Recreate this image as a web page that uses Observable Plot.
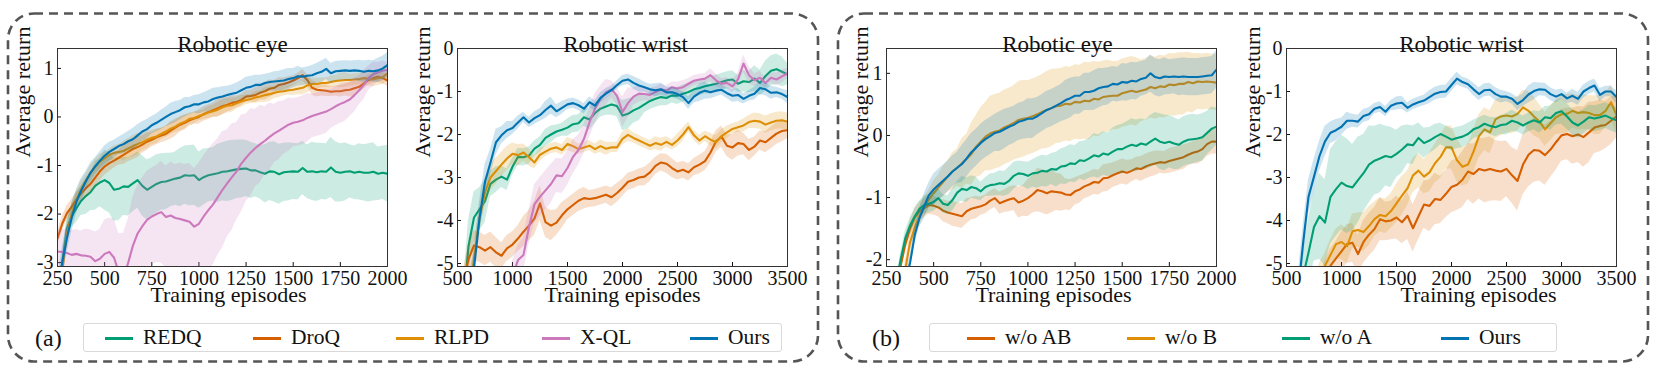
<!DOCTYPE html>
<html><head><meta charset="utf-8">
<script src="https://cdn.jsdelivr.net/npm/d3@7"></script>
<script src="https://cdn.jsdelivr.net/npm/@observablehq/plot@0.6"></script>
<style>
html,body{margin:0;padding:0;background:#fff}
#root{position:relative;width:1661px;height:374px;overflow:hidden;font-family:"Liberation Serif","Times New Roman",Times,"DejaVu Serif",serif;color:#111}
.panel{position:absolute;top:13px}
.legend{position:absolute;top:323px;height:29px;box-sizing:border-box;border:1.5px solid #d9d9d9;border-radius:3px;background:#fff}
.item{position:absolute;top:338px;font-size:21.5px;line-height:1;transform:translateY(-50%);white-space:nowrap}
.sw{position:absolute;top:337px;width:28px;height:2.5px}
.tag{position:absolute;top:338px;font-size:24px;line-height:1;transform:translateY(-50%)}
</style></head><body><div id="root"></div>
<script>
// ---------- episode grids & ticks ----------
const eyeEpisodes = d3.range(250, 2001, 25);     // 71 points
const wristEpisodes = d3.range(500, 3501, 50);   // 61 points
const eyeXTicks = [250, 500, 750, 1000, 1250, 1500, 1750, 2000];
const wristXTicks = [500, 1000, 1500, 2000, 2500, 3000, 3500];
const eyeAYTicks = [-3, -2, -1, 0, 1];
const eyeBYTicks = [-2, -1, 0, 1];
const wristYTicks = [-5, -4, -3, -2, -1, 0];
const panelTitles = ["Robotic eye", "Robotic wrist", "Robotic eye", "Robotic wrist"];
const xLabel = "Training episodes";
const yLabel = "Average return";
const legendA = ["REDQ", "DroQ", "RLPD", "X-QL", "Ours"];
const legendB = ["w/o AB", "w/o B", "w/o A", "Ours"];
const colors = {green: "#029e73", red: "#d55e00", orange: "#de8f05", pink: "#cc78bc", blue: "#0173b2"};

// ---------- (a) Robotic eye ----------
const aEyeREDQ = [-4.0,-3.0,-2.3,-2.05,-1.88,-1.73,-1.63,-1.55,-1.42,-1.35,
 -1.3,-1.36,-1.5,-1.48,-1.43,-1.44,-1.37,-1.3,-1.42,-1.5,
 -1.44,-1.38,-1.34,-1.33,-1.3,-1.27,-1.25,-1.2,-1.21,-1.2,
 -1.3,-1.24,-1.2,-1.18,-1.16,-1.13,-1.12,-1.1,-1.08,-1.07,
 -1.06,-1.1,-1.1,-1.14,-1.17,-1.12,-1.13,-1.18,-1.14,-1.13,
 -1.12,-1.13,-1.05,-1.13,-1.12,-1.14,-1.12,-1.13,-1.04,-1.13,
 -1.15,-1.13,-1.12,-1.15,-1.13,-1.15,-1.15,-1.13,-1.17,-1.15,-1.17];
const aEyeDroQ = [-2.5,-2.2,-1.98,-1.85,-1.7,-1.58,-1.47,-1.38,-1.25,-1.12,
 -1.02,-0.95,-0.9,-0.84,-0.78,-0.72,-0.66,-0.62,-0.57,-0.51,
 -0.47,-0.42,-0.38,-0.35,-0.28,-0.22,-0.16,-0.12,-0.07,-0.03,
 0.0,0.06,0.1,0.14,0.18,0.22,0.25,0.29,0.31,0.35,
 0.42,0.43,0.45,0.5,0.53,0.58,0.6,0.66,0.68,0.71,
 0.75,0.8,0.86,0.76,0.6,0.56,0.55,0.54,0.52,0.53,
 0.53,0.55,0.56,0.59,0.62,0.69,0.76,0.8,0.83,0.8,0.75];
const aEyeRLPD = [-3.9,-3.2,-2.4,-2.0,-1.72,-1.5,-1.32,-1.15,-1.02,-0.92,
 -0.85,-0.78,-0.74,-0.72,-0.7,-0.65,-0.6,-0.56,-0.52,-0.47,
 -0.43,-0.4,-0.35,-0.3,-0.24,-0.2,-0.14,-0.1,-0.04,-0.02,
 0.02,0.05,0.09,0.12,0.15,0.2,0.23,0.24,0.28,0.32,
 0.35,0.37,0.4,0.42,0.45,0.47,0.5,0.52,0.53,0.55,
 0.56,0.58,0.6,0.65,0.68,0.68,0.7,0.7,0.72,0.74,
 0.75,0.76,0.76,0.77,0.78,0.8,0.78,0.77,0.8,0.82,0.9];
const aEyeXQL = [-2.77,-2.78,-2.8,-2.84,-2.82,-2.85,-2.86,-2.88,-2.97,-2.92,
 -2.82,-2.78,-2.9,-3.2,-3.3,-3.0,-2.65,-2.4,-2.25,-2.12,
 -2.05,-2.0,-1.96,-2.06,-2.03,-2.08,-2.1,-2.13,-2.16,-2.26,
 -2.2,-2.05,-1.92,-1.8,-1.65,-1.5,-1.37,-1.24,-1.12,-0.96,
 -0.84,-0.73,-0.64,-0.56,-0.49,-0.41,-0.34,-0.28,-0.22,-0.16,
 -0.12,-0.1,-0.07,-0.02,0.02,0.05,0.08,0.11,0.16,0.22,
 0.27,0.31,0.36,0.45,0.55,0.66,0.8,0.88,0.92,0.95,0.97];
const aEyeOurs = [-3.6,-3.0,-2.5,-2.08,-1.75,-1.52,-1.33,-1.15,-1.02,-0.9,
 -0.8,-0.72,-0.66,-0.6,-0.56,-0.5,-0.46,-0.38,-0.3,-0.25,
 -0.17,-0.12,-0.06,0.0,0.06,0.1,0.14,0.2,0.22,0.26,
 0.26,0.3,0.32,0.37,0.4,0.42,0.45,0.48,0.5,0.55,
 0.6,0.62,0.66,0.66,0.7,0.72,0.73,0.74,0.75,0.78,
 0.8,0.84,0.83,0.85,0.86,0.9,0.93,0.99,0.9,0.94,
 0.95,0.96,0.95,0.96,0.95,0.93,0.95,0.94,0.96,1.0,1.07];
// band half-widths (one value per 50 episodes)
const aEyeREDQBand = [0.15,0.22,0.3,0.38,0.5,0.62,0.65,0.6,0.58,0.62,0.6,0.58,0.55,0.6,0.62,0.58,0.55,0.6,0.62,0.6,0.58,0.55,0.6,0.62,0.6,0.58,0.55,0.6,0.58,0.62,0.6,0.55,0.58,0.6,0.55,0.58];
const aEyeDroQBand = [0.15,0.15,0.15,0.18,0.2,0.18,0.15,0.2,0.22,0.18,0.15,0.15,0.18,0.15,0.12,0.15,0.15,0.18,0.15,0.12,0.12,0.15,0.18,0.15,0.12,0.1,0.12,0.15,0.12,0.1,0.12,0.15,0.12,0.1,0.12,0.12];
const aEyeRLPDBand = [0.2,0.2,0.18,0.15,0.15,0.12,0.15,0.2,0.22,0.18,0.15,0.12,0.12,0.15,0.12,0.1,0.12,0.15,0.15,0.12,0.1,0.12,0.15,0.12,0.1,0.12,0.15,0.12,0.1,0.12,0.15,0.12,0.12,0.15,0.15,0.15];
const aEyeXQLBand = [0.45,0.5,0.5,0.55,0.6,0.7,0.8,0.9,1.0,1.0,1.0,1.05,1.1,1.15,1.2,1.25,1.25,1.2,1.1,1.0,0.9,0.8,0.7,0.6,0.55,0.5,0.5,0.45,0.45,0.4,0.4,0.35,0.3,0.25,0.2,0.15];
const aEyeOursBand = [0.3,0.3,0.25,0.2,0.18,0.2,0.18,0.2,0.22,0.2,0.18,0.2,0.22,0.2,0.18,0.2,0.22,0.2,0.18,0.2,0.22,0.2,0.18,0.2,0.22,0.2,0.18,0.2,0.22,0.2,0.2,0.2,0.22,0.22,0.25,0.25];

// ---------- (a) Robotic wrist ----------
const aWristREDQ = [-7,-6,-4.6,-3.93,-3.74,-3.55,-3.15,-3.05,-2.98,-3.05,
 -2.75,-2.52,-2.53,-2.49,-2.33,-2.24,-2.08,-2.0,-1.93,-1.89,
 -1.84,-1.76,-1.74,-1.6,-1.65,-1.5,-1.4,-1.35,-1.3,-1.34,
 -1.56,-1.52,-1.44,-1.38,-1.3,-1.22,-1.17,-1.13,-1.15,-1.09,
 -1.1,-1.05,-1.01,-0.95,-0.92,-0.88,-0.85,-0.82,-0.78,-0.74,
 -0.72,-0.82,-0.76,-0.78,-0.7,-0.8,-0.64,-0.52,-0.48,-0.54,-0.6];
const aWristDroQ = [-6,-5.5,-4.9,-4.58,-4.62,-4.7,-4.62,-4.74,-4.82,-4.65,
 -4.56,-4.42,-4.26,-4.12,-3.95,-3.6,-4.04,-4.12,-4.05,-3.88,
 -3.74,-3.64,-3.54,-3.48,-3.5,-3.48,-3.44,-3.4,-3.46,-3.36,
 -3.24,-3.1,-3.06,-3.0,-2.98,-2.88,-2.73,-2.65,-2.68,-2.78,
 -2.86,-2.82,-2.88,-2.76,-2.7,-2.62,-2.42,-2.16,-2.05,-2.26,
 -2.3,-2.2,-2.22,-2.36,-2.28,-2.14,-2.18,-2.08,-1.98,-1.92,-1.9];
const aWristRLPD = [-7,-6,-5.8,-4.9,-3.95,-3.35,-3.0,-2.85,-2.7,-2.56,
 -2.45,-2.48,-2.42,-2.53,-2.65,-2.47,-2.4,-2.33,-2.3,-2.36,
 -2.22,-2.27,-2.34,-2.3,-2.26,-2.34,-2.27,-2.33,-2.3,-2.3,
 -2.1,-2.01,-2.08,-2.14,-2.2,-2.26,-2.2,-2.24,-2.17,-2.24,
 -2.14,-2.0,-1.83,-2.02,-2.14,-2.04,-2.12,-2.18,-2.04,-1.95,
 -1.87,-1.83,-1.79,-1.71,-1.68,-1.7,-1.77,-1.72,-1.68,-1.67,-1.7];
const aWristXQL = [-7,-7,-7,-7,-7,-7,-7,-7,-6.5,-6,
 -5.3,-4.92,-4.8,-4.15,-3.62,-3.45,-3.3,-3.15,-2.95,-2.97,
 -2.78,-2.52,-2.36,-2.1,-1.72,-1.4,-1.17,-1.02,-0.95,-1.1,
 -1.48,-1.27,-1.12,-1.05,-1.06,-1.08,-1.01,-0.95,-0.98,-0.9,
 -0.93,-0.9,-0.82,-0.75,-0.72,-0.7,-0.62,-0.74,-0.82,-0.8,
 -0.88,-0.72,-0.35,-0.62,-0.74,-0.68,-0.8,-0.68,-0.72,-0.65,-0.58];
const aWristOurs = [-6,-6,-5.8,-5.1,-3.95,-3.1,-2.65,-2.18,-2.02,-1.9,
 -1.85,-1.72,-1.6,-1.72,-1.62,-1.55,-1.43,-1.33,-1.46,-1.38,
 -1.3,-1.27,-1.32,-1.4,-1.25,-1.33,-1.15,-1.05,-0.97,-0.85,
 -0.75,-0.72,-0.8,-0.86,-0.9,-0.95,-0.97,-0.95,-1.02,-1.02,
 -1.06,-1.13,-1.27,-1.12,-1.03,-0.98,-1.02,-0.98,-0.96,-1.04,
 -1.1,-1.08,-1.17,-1.1,-1.05,-0.92,-0.95,-1.03,-1.02,-1.06,-1.13];
// band half-widths (one value per 100 episodes)
const aWristREDQBand = [0.4,0.6,0.5,0.3,0.25,0.2,0.2,0.18,0.2,0.15,0.2,0.2,0.25,0.2,0.25,0.35,0.3,0.2,0.2,0.18,0.2,0.2,0.18,0.2,0.2,0.2,0.25,0.3,0.35,0.35,0.25];
const aWristDroQBand = [0.3,0.35,0.35,0.35,0.3,0.3,0.35,0.4,0.35,0.3,0.25,0.25,0.2,0.2,0.22,0.2,0.2,0.22,0.2,0.22,0.2,0.2,0.22,0.25,0.25,0.3,0.25,0.22,0.25,0.25,0.2];
const aWristRLPDBand = [0.3,0.3,0.3,0.3,0.28,0.25,0.2,0.15,0.12,0.12,0.15,0.12,0.12,0.15,0.12,0.15,0.12,0.12,0.15,0.12,0.15,0.12,0.12,0.15,0.15,0.12,0.15,0.18,0.2,0.2,0.2];
const aWristXQLBand = [0.3,0.3,0.3,0.3,0.3,0.35,0.4,0.45,0.45,0.4,0.4,0.35,0.35,0.3,0.2,0.35,0.2,0.15,0.12,0.12,0.15,0.12,0.12,0.15,0.12,0.15,0.2,0.15,0.12,0.15,0.12];
const aWristOursBand = [0.3,0.4,0.4,0.3,0.2,0.15,0.12,0.15,0.2,0.15,0.12,0.12,0.12,0.12,0.1,0.12,0.15,0.12,0.15,0.12,0.12,0.15,0.2,0.15,0.12,0.15,0.12,0.15,0.15,0.12,0.15];

// ---------- (b) Robotic eye ----------
const bEyeNoAB = [-3.3,-2.9,-2.5,-2.1,-1.75,-1.5,-1.32,-1.22,-1.17,-1.12,
 -1.13,-1.16,-1.21,-1.24,-1.26,-1.28,-1.3,-1.22,-1.18,-1.16,
 -1.14,-1.11,-1.05,-1.01,-1.09,-1.06,-1.03,-1.01,-1.08,-1.05,
 -1.01,-0.95,-0.88,-0.9,-0.93,-0.9,-0.91,-0.92,-0.95,-0.96,
 -0.9,-0.87,-0.82,-0.79,-0.75,-0.76,-0.69,-0.68,-0.64,-0.61,
 -0.58,-0.6,-0.57,-0.53,-0.54,-0.5,-0.47,-0.45,-0.43,-0.44,
 -0.41,-0.39,-0.37,-0.35,-0.31,-0.28,-0.26,-0.22,-0.14,-0.1,-0.1];
const bEyeNoB = [-3.5,-3.1,-2.8,-2.5,-2.15,-1.72,-1.48,-1.3,-1.15,-1.03,
 -0.93,-0.84,-0.75,-0.66,-0.58,-0.52,-0.45,-0.38,-0.3,-0.18,
 -0.1,-0.02,0.03,0.06,0.08,0.13,0.16,0.2,0.25,0.27,
 0.28,0.31,0.34,0.38,0.41,0.44,0.47,0.48,0.51,0.5,
 0.54,0.53,0.56,0.55,0.59,0.58,0.62,0.63,0.64,0.64,
 0.68,0.7,0.72,0.7,0.72,0.74,0.78,0.76,0.79,0.78,
 0.82,0.81,0.83,0.83,0.86,0.84,0.87,0.86,0.87,0.86,0.85];
const bEyeNoA = [-3.3,-2.9,-2.4,-2.0,-1.65,-1.45,-1.3,-1.18,-1.12,-1.1,
 -1.07,-1.01,-1.1,-1.12,-1.04,-0.92,-0.86,-0.88,-0.83,-0.85,
 -0.9,-0.83,-0.8,-0.79,-0.77,-0.78,-0.73,-0.65,-0.61,-0.62,
 -0.65,-0.61,-0.6,-0.57,-0.58,-0.54,-0.55,-0.5,-0.49,-0.45,
 -0.46,-0.4,-0.41,-0.37,-0.32,-0.34,-0.29,-0.31,-0.26,-0.22,
 -0.22,-0.18,-0.15,-0.17,-0.13,-0.15,-0.1,-0.05,-0.1,-0.12,
 -0.1,-0.13,-0.15,-0.1,-0.07,-0.06,-0.05,-0.03,0.04,0.11,0.14];
const bEyeOurs = [-3.5,-3.2,-2.9,-2.6,-2.35,-2.05,-1.6,-1.33,-1.14,-0.96,
 -0.87,-0.8,-0.73,-0.66,-0.58,-0.52,-0.46,-0.37,-0.27,-0.2,
 -0.12,-0.06,-0.01,0.04,0.06,0.1,0.14,0.17,0.22,0.24,
 0.27,0.27,0.31,0.36,0.41,0.44,0.48,0.52,0.57,0.6,
 0.64,0.64,0.7,0.7,0.72,0.76,0.78,0.79,0.83,0.82,
 0.86,0.85,0.88,0.87,0.91,0.93,1.0,0.94,0.92,0.95,
 0.94,0.95,0.94,0.95,0.94,0.94,0.94,0.95,0.96,0.97,1.06];
const bEyeNoABBand = [0.1,0.1,0.12,0.15,0.15,0.15,0.18,0.2,0.2,0.18,0.15,0.15,0.18,0.2,0.25,0.3,0.35,0.35,0.3,0.25,0.22,0.2,0.2,0.22,0.2,0.2,0.18,0.2,0.2,0.18,0.2,0.2,0.18,0.2,0.2,0.2];
const bEyeNoBBand = [0.1,0.1,0.12,0.15,0.15,0.2,0.25,0.3,0.4,0.5,0.55,0.6,0.6,0.6,0.62,0.6,0.6,0.62,0.6,0.6,0.6,0.62,0.6,0.58,0.55,0.55,0.55,0.5,0.5,0.5,0.5,0.5,0.48,0.45,0.45,0.45];
const bEyeNoABand = [0.1,0.1,0.12,0.12,0.15,0.15,0.15,0.18,0.2,0.18,0.15,0.18,0.2,0.22,0.2,0.22,0.25,0.25,0.28,0.3,0.3,0.32,0.35,0.35,0.38,0.4,0.42,0.4,0.42,0.45,0.42,0.4,0.4,0.38,0.35,0.3];
const bEyeOursBand = [0.1,0.1,0.12,0.15,0.2,0.25,0.25,0.25,0.3,0.3,0.3,0.3,0.32,0.3,0.3,0.32,0.3,0.3,0.3,0.32,0.3,0.3,0.32,0.3,0.28,0.3,0.3,0.28,0.3,0.3,0.28,0.3,0.3,0.3,0.3,0.3];

// ---------- (b) Robotic wrist ----------
const bWristNoAB = [-8,-7.5,-7,-6.5,-6.2,-5.9,-5.6,-5.3,-5.05,-4.88,
 -4.72,-4.55,-4.52,-4.78,-4.5,-4.33,-4.2,-3.97,-4.02,-4.0,
 -3.93,-4.04,-3.89,-4.18,-3.9,-3.63,-3.66,-3.5,-3.52,-3.38,
 -3.22,-3.17,-3.05,-2.86,-2.92,-2.8,-2.84,-2.8,-2.84,-2.86,
 -2.8,-2.95,-3.08,-2.7,-2.47,-2.36,-2.38,-2.48,-2.35,-2.18,
 -2.02,-1.99,-2.04,-2.0,-2.06,-1.95,-1.84,-1.8,-1.78,-1.68,-1.58];
const bWristNoB = [-8,-7.5,-7,-6.5,-6,-5.6,-5.3,-5.05,-4.8,-4.55,
 -4.5,-4.6,-4.25,-4.22,-4.27,-4.13,-3.97,-3.87,-3.9,-3.78,
 -3.6,-3.42,-3.25,-2.95,-2.84,-2.98,-2.88,-2.67,-2.52,-2.3,
 -2.3,-2.6,-2.75,-2.7,-2.4,-2.04,-1.88,-1.95,-1.65,-1.58,
 -1.56,-1.58,-1.52,-1.37,-1.45,-1.58,-1.7,-1.88,-1.74,-1.6,
 -1.53,-1.52,-1.45,-1.5,-1.48,-1.5,-1.55,-1.55,-1.45,-1.25,-1.55];
const bWristNoA = [-7,-6.5,-6,-5.3,-4.75,-4.15,-3.9,-4.05,-3.45,-3.27,
 -3.12,-3.2,-3.23,-3.06,-2.9,-2.7,-2.61,-2.56,-2.5,-2.53,
 -2.45,-2.35,-2.23,-2.25,-2.08,-2.2,-2.14,-2.06,-1.99,-2.05,
 -2.12,-2.08,-2.05,-1.99,-1.88,-1.83,-1.75,-1.8,-1.83,-1.78,
 -1.76,-1.68,-1.72,-1.79,-1.72,-1.67,-1.72,-1.6,-1.62,-1.5,
 -1.46,-1.58,-1.72,-1.79,-1.7,-1.6,-1.63,-1.6,-1.56,-1.62,-1.67];
const bWristOurs = [-7,-6.5,-5.8,-4.55,-3.45,-2.98,-2.5,-2.16,-1.96,-1.9,
 -1.82,-1.68,-1.68,-1.7,-1.57,-1.53,-1.4,-1.36,-1.47,-1.33,
 -1.28,-1.26,-1.38,-1.3,-1.25,-1.21,-1.13,-1.05,-1.01,-1.0,
 -0.85,-0.7,-0.78,-0.83,-0.95,-1.06,-0.97,-0.96,-1.06,-1.12,
 -1.12,-1.17,-1.29,-1.2,-1.07,-0.99,-0.95,-0.96,-1.06,-1.12,
 -1.06,-1.16,-1.1,-1.17,-1.0,-0.92,-0.86,-1.08,-1.0,-1.0,-1.13];
const bWristNoABBand = [0.3,0.3,0.3,0.35,0.4,0.45,0.45,0.5,0.5,0.45,0.5,0.55,0.55,0.6,0.55,0.6,0.65,0.7,0.75,0.7,0.65,0.7,0.75,0.7,0.65,0.6,0.65,0.7,0.6,0.55,0.5];
const bWristNoBBand = [0.3,0.3,0.3,0.3,0.35,0.4,0.4,0.45,0.4,0.4,0.45,0.4,0.4,0.45,0.5,0.5,0.45,0.5,0.5,0.45,0.4,0.4,0.45,0.4,0.4,0.45,0.4,0.4,0.45,0.4,0.4];
const bWristNoABand = [0.3,0.5,0.8,1.0,1.1,1.1,1.0,0.9,0.8,0.7,0.55,0.45,0.35,0.3,0.25,0.25,0.25,0.22,0.2,0.22,0.25,0.22,0.22,0.25,0.28,0.3,0.3,0.28,0.3,0.3,0.3];
const bWristOursBand = [0.3,0.4,0.4,0.35,0.25,0.2,0.15,0.15,0.12,0.12,0.15,0.12,0.12,0.15,0.15,0.15,0.12,0.15,0.15,0.15,0.12,0.15,0.2,0.15,0.15,0.12,0.15,0.15,0.15,0.12,0.15];

// ---------- panel definitions ----------
const panels = [
  {left: 2, x: eyeEpisodes, xDomain: [250, 2000], yDomain: [-3.08, 1.41], xTicks: eyeXTicks, yTicks: eyeAYTicks,
   title: panelTitles[0], titleDx: 10, xLabelDx: 6, yLabelDx: -35,
   series: [
     {values: aEyeREDQ, band: aEyeREDQBand, color: colors.green},
     {values: aEyeDroQ, band: aEyeDroQBand, color: colors.red},
     {values: aEyeRLPD, band: aEyeRLPDBand, color: colors.orange},
     {values: aEyeXQL, band: aEyeXQLBand, color: colors.pink},
     {values: aEyeOurs, band: aEyeOursBand, color: colors.blue}]},
  {left: 402, x: wristEpisodes, xDomain: [500, 3500], yDomain: [-5.07, 0], xTicks: wristXTicks, yTicks: wristYTicks,
   title: panelTitles[1], titleDx: 3, xLabelDx: 0, yLabelDx: -35,
   series: [
     {values: aWristREDQ, band: aWristREDQBand, color: colors.green},
     {values: aWristDroQ, band: aWristDroQBand, color: colors.red},
     {values: aWristRLPD, band: aWristRLPDBand, color: colors.orange},
     {values: aWristXQL, band: aWristXQLBand, color: colors.pink},
     {values: aWristOurs, band: aWristOursBand, color: colors.blue}]},
  {left: 831, x: eyeEpisodes, xDomain: [250, 2000], yDomain: [-2.11, 1.4], xTicks: eyeXTicks, yTicks: eyeBYTicks,
   title: panelTitles[2], titleDx: 6, xLabelDx: 2, yLabelDx: -26,
   series: [
     {values: bEyeNoAB, band: bEyeNoABBand, color: colors.red},
     {values: bEyeNoB, band: bEyeNoBBand, color: colors.orange},
     {values: bEyeNoA, band: bEyeNoABand, color: colors.green},
     {values: bEyeOurs, band: bEyeOursBand, color: colors.blue}]},
  {left: 1231, x: wristEpisodes, xDomain: [500, 3500], yDomain: [-5.07, 0], xTicks: wristXTicks, yTicks: wristYTicks,
   title: panelTitles[3], titleDx: 10, xLabelDx: 27, yLabelDx: -34,
   series: [
     {values: bWristNoAB, band: bWristNoABBand, color: colors.red},
     {values: bWristNoB, band: bWristNoBBand, color: colors.orange},
     {values: bWristNoA, band: bWristNoABand, color: colors.green},
     {values: bWristOurs, band: bWristOursBand, color: colors.blue}]}
];

const root = document.getElementById("root");
const serif = '"Liberation Serif", "Times New Roman", Times, "DejaVu Serif", serif';

// dashed rounded group boxes
const deco = d3.create("svg").attr("width", 1661).attr("height", 374)
  .style("position", "absolute").style("left", "0px").style("top", "0px");
[[8, 13.5], [838, 13.5]].forEach(([x, y]) => {
  deco.append("rect").attr("x", x).attr("y", y).attr("width", 810).attr("height", 348)
    .attr("rx", 26).attr("ry", 26).attr("fill", "none").attr("stroke", "#555")
    .attr("stroke-width", 2.6).attr("stroke-dasharray", "9 6");
});
root.appendChild(deco.node());

function makePanel(p) {
  const marks = [];
  p.series.forEach(s => {
    const rows = p.x.map((e, i) => {
      const w = s.band[Math.floor(i / 2)];
      return {e, v: s.values[i], lo: s.values[i] - w, hi: s.values[i] + w};
    });
    marks.push(Plot.areaY(rows, {x: "e", y1: "lo", y2: "hi", fill: s.color, fillOpacity: 0.2, clip: true}));
    marks.push(Plot.line(rows, {x: "e", y: "v", stroke: s.color, strokeWidth: 2.1, clip: true}));
  });
  marks.push(Plot.frame({stroke: "#333", strokeWidth: 1}));
  marks.push(Plot.text([p.title], {frameAnchor: "top", dy: -13, dx: p.titleDx, fontSize: 23, fontFamily: serif, text: d => d, fill: "#111"}));
  marks.push(Plot.text([xLabel], {frameAnchor: "bottom", dy: 35, dx: p.xLabelDx, fontSize: 22, fontFamily: serif, text: d => d, fill: "#111"}));
  marks.push(Plot.text([yLabel], {frameAnchor: "left", dx: p.yLabelDx, rotate: -90, fontSize: 22, fontFamily: serif, text: d => d, fill: "#111"}));
  return Plot.plot({
    width: 400, height: 308, marginLeft: 55, marginRight: 15, marginTop: 35, marginBottom: 55,
    style: {fontFamily: serif, fontSize: "20px", background: "transparent", overflow: "visible", color: "#111"},
    x: {domain: p.xDomain, ticks: p.xTicks, tickFormat: d => String(d), tickSize: -4, tickPadding: 8, label: null},
    y: {domain: p.yDomain, ticks: p.yTicks, tickFormat: d => String(d), tickSize: -4, tickPadding: 8, label: null},
    marks
  });
}

panels.forEach(p => {
  const wrap = document.createElement("div");
  wrap.className = "panel";
  wrap.style.left = p.left + "px";
  wrap.appendChild(makePanel(p));
  root.appendChild(wrap);
});

// legends
function addLegend(box, names, cols, swatchX, tag, tagX) {
  const lg = document.createElement("div");
  lg.className = "legend";
  lg.style.left = box[0] + "px";
  lg.style.width = (box[1] - box[0]) + "px";
  root.appendChild(lg);
  names.forEach((n, i) => {
    const sw = document.createElement("div");
    sw.className = "sw"; sw.style.left = swatchX[i] + "px"; sw.style.background = cols[i];
    root.appendChild(sw);
    const t = document.createElement("div");
    t.className = "item"; t.style.left = (swatchX[i] + 38) + "px"; t.textContent = n;
    root.appendChild(t);
  });
  const tg = document.createElement("div");
  tg.className = "tag"; tg.style.left = tagX + "px"; tg.textContent = tag;
  root.appendChild(tg);
}
addLegend([83, 782], legendA, [colors.green, colors.red, colors.orange, colors.pink, colors.blue],
  [105, 253, 396, 542, 690], "(a)", 35);
addLegend([929, 1557], legendB, [colors.red, colors.orange, colors.green, colors.blue],
  [967, 1127, 1282, 1441], "(b)", 872);
</script></body></html>
